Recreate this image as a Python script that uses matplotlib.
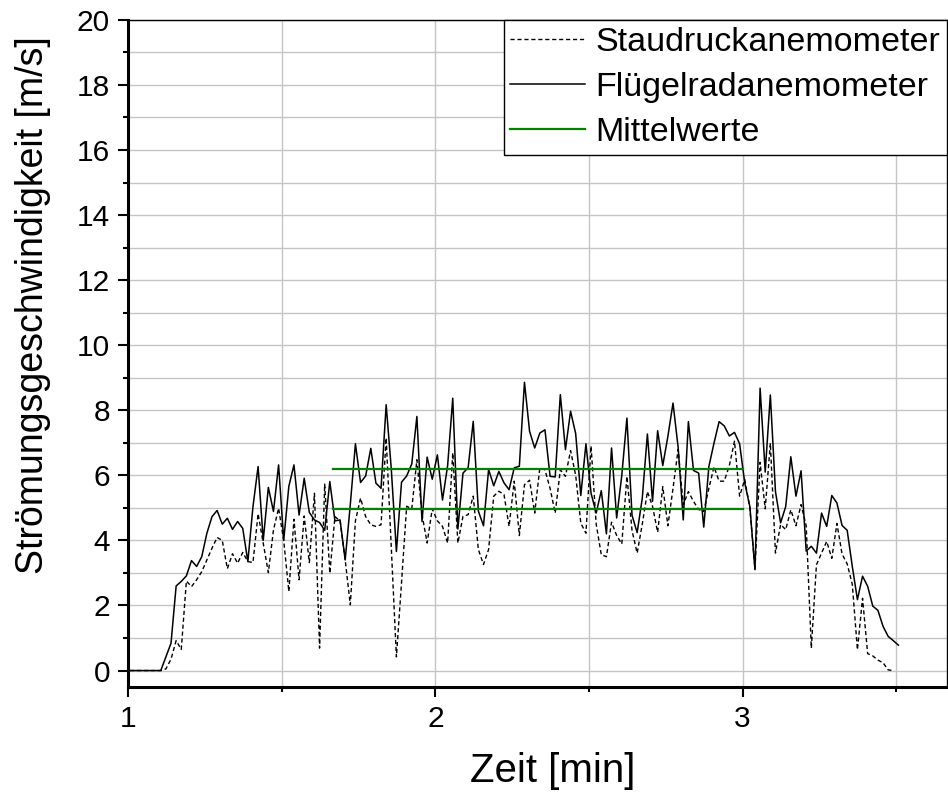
import numpy as np
import matplotlib
matplotlib.use("Agg")
from matplotlib import pyplot as plt
from matplotlib.ticker import MultipleLocator

plt.rcParams['font.family'] = ['Liberation Sans', 'DejaVu Sans']

# Messreihen, Abtastung 1 s
T0 = 1.0067      # erster Messpunkt [min]
DT = 1 / 60      # Schrittweite [min]

# Flügelradanemometer [m/s]
fluegelrad = [0, 0, 0, 0, 0, 0,
              0, 0.42, 0.84, 2.6, 2.74, 2.91, 3.38, 3.2, 3.5, 4.22,
              4.73, 4.92, 4.5, 4.68, 4.34, 4.58, 4.37, 3.35, 5.04, 6.27,
              4.0, 5.63, 4.89, 6.32, 4.0, 5.66, 6.32, 4.78, 5.91, 4.86,
              4.63, 4.55, 4.31, 5.81, 4.6, 4.63, 3.4, 5.1, 6.97, 5.78,
              5.98, 6.83, 5.76, 5.6, 8.17, 6.2, 3.66, 5.79, 5.98, 6.35,
              7.81, 4.58, 6.56, 5.88, 6.63, 5.24, 6.3, 8.37, 4.35, 6.07,
              6.23, 7.66, 4.9, 4.45, 6.18, 5.68, 6.12, 5.77, 5.56, 6.23,
              6.28, 8.86, 7.35, 6.84, 7.3, 7.4, 5.97, 5.95, 8.48, 6.79,
              7.97, 7.28, 5.38, 6.97, 5.45, 4.84, 5.53, 4.2, 6.84, 4.69,
              6.0, 7.76, 4.77, 4.24, 5.3, 7.27, 5.2, 7.37, 6.3, 7.2,
              8.22, 6.86, 4.63, 7.65, 6.15, 6.07, 4.41, 6.27, 6.99, 7.65,
              7.52, 7.21, 7.32, 6.97, 5.77, 5.04, 3.1, 8.68, 6.1, 8.47,
              5.5, 4.54, 5.04, 6.57, 5.36, 6.14, 3.67, 3.82, 3.61, 4.84,
              4.43, 5.38, 5.15, 4.46, 4.31, 3.2, 2.18, 2.9, 2.59, 1.98,
              1.85, 1.36, 1.05, 0.92, 0.78]

# Staudruckanemometer [m/s]
staudruck = [0, 0, 0, 0, 0, 0,
             0, 0.05, 0.35, 0.92, 0.65, 2.75, 2.58, 2.79, 3.04, 3.4,
             3.76, 4.09, 4.0, 3.13, 3.59, 3.3, 3.63, 3.35, 3.32, 4.82,
             3.91, 3.01, 4.32, 4.99, 4.0, 2.43, 4.65, 2.79, 4.75, 3.32,
             5.45, 0.69, 5.73, 2.99, 4.73, 4.6, 3.4, 2.02, 4.6, 5.3,
             4.73, 4.48, 4.43, 4.48, 7.15, 3.8, 0.42, 2.7, 5.05, 4.97,
             6.48, 4.8, 3.92, 4.97, 4.6, 4.43, 3.92, 6.69, 3.92, 4.74,
             4.79, 5.36, 3.72, 3.26, 3.72, 5.36, 5.51, 5.41, 4.43, 5.82,
             4.15, 5.71, 5.85, 4.84, 6.23, 6.17, 5.6, 4.84, 6.17, 5.97,
             6.76, 6.0, 4.53, 4.22, 6.9, 4.5, 3.56, 3.5, 4.56, 4.15,
             3.89, 5.97, 4.3, 3.61, 4.5, 5.5, 5.05, 4.25, 5.65, 4.45,
             5.6, 6.8, 5.1, 5.5, 5.2, 4.95, 4.89, 5.6, 6.26, 5.82,
             5.82, 6.3, 7.05, 5.36, 5.87, 5.0, 3.12, 6.4, 4.97, 6.99,
             3.61, 4.49, 4.33, 4.94, 4.45, 5.1, 4.45, 0.69, 3.25, 3.61,
             3.97, 3.45, 4.52, 3.58, 3.28, 2.65, 0.64, 2.22, 0.52, 0.45,
             0.32, 0.24, 0.02, 0.0]

# Mittelwerte im Auswertebereich
mittel_bereich = [1.667, 3.0]
mittel_fluegelrad = 6.21
mittel_staudruck = 4.95

t_fl = T0 + np.arange(len(fluegelrad)) * DT
t_st = T0 + np.arange(len(staudruck)) * DT

fig = plt.figure(figsize=(9.48, 7.94), dpi=100)
ax = fig.add_axes([0.135, 0.135, 0.864, 0.840])

ax.plot(t_st, staudruck, color="black", lw=1.0, ls=(0, (3, 2)),
        label="Staudruckanemometer", zorder=3)
ax.plot(t_fl, fluegelrad, color="black", lw=1.1,
        label="Flügelradanemometer", zorder=3)
ax.plot(mittel_bereich, [mittel_fluegelrad] * 2, color="#008000", lw=1.6,
        label="Mittelwerte", zorder=4)
ax.plot(mittel_bereich, [mittel_staudruck] * 2, color="#008000", lw=1.6,
        zorder=4)

ax.set_xlim(1.0, 3.665)
ax.set_ylim(-0.5, 20)

ax.xaxis.set_major_locator(MultipleLocator(1))
ax.xaxis.set_minor_locator(MultipleLocator(0.5))
ax.yaxis.set_major_locator(MultipleLocator(2))
ax.yaxis.set_minor_locator(MultipleLocator(1))

ax.grid(which="both", color="#c4c4c4", lw=1.0, zorder=0)
ax.tick_params(which="major", direction="out", length=7, width=1.5,
               labelsize=21.5, pad=6)
ax.tick_params(which="minor", direction="out", length=3.5, width=1.5)

for side in ["left", "bottom"]:
    ax.spines[side].set_linewidth(2.2)
for side in ["top", "right"]:
    ax.spines[side].set_linewidth(1.0)

ax.set_xlabel("Zeit [min]", fontsize=29)
ax.set_ylabel("Strömungsgeschwindigkeit [m/s]", fontsize=27)
ax.xaxis.set_label_coords(0.518, -0.097)
ax.yaxis.set_label_coords(-0.094, 0.572)

leg = ax.legend(loc="upper right", borderaxespad=0, fontsize=24.5,
                handlelength=2.2, handletextpad=0.3, labelspacing=0.42,
                borderpad=0.2, fancybox=False, framealpha=1,
                edgecolor="black")
leg.get_frame().set_linewidth(1.0)

plt.savefig("out.png", dpi=100)
